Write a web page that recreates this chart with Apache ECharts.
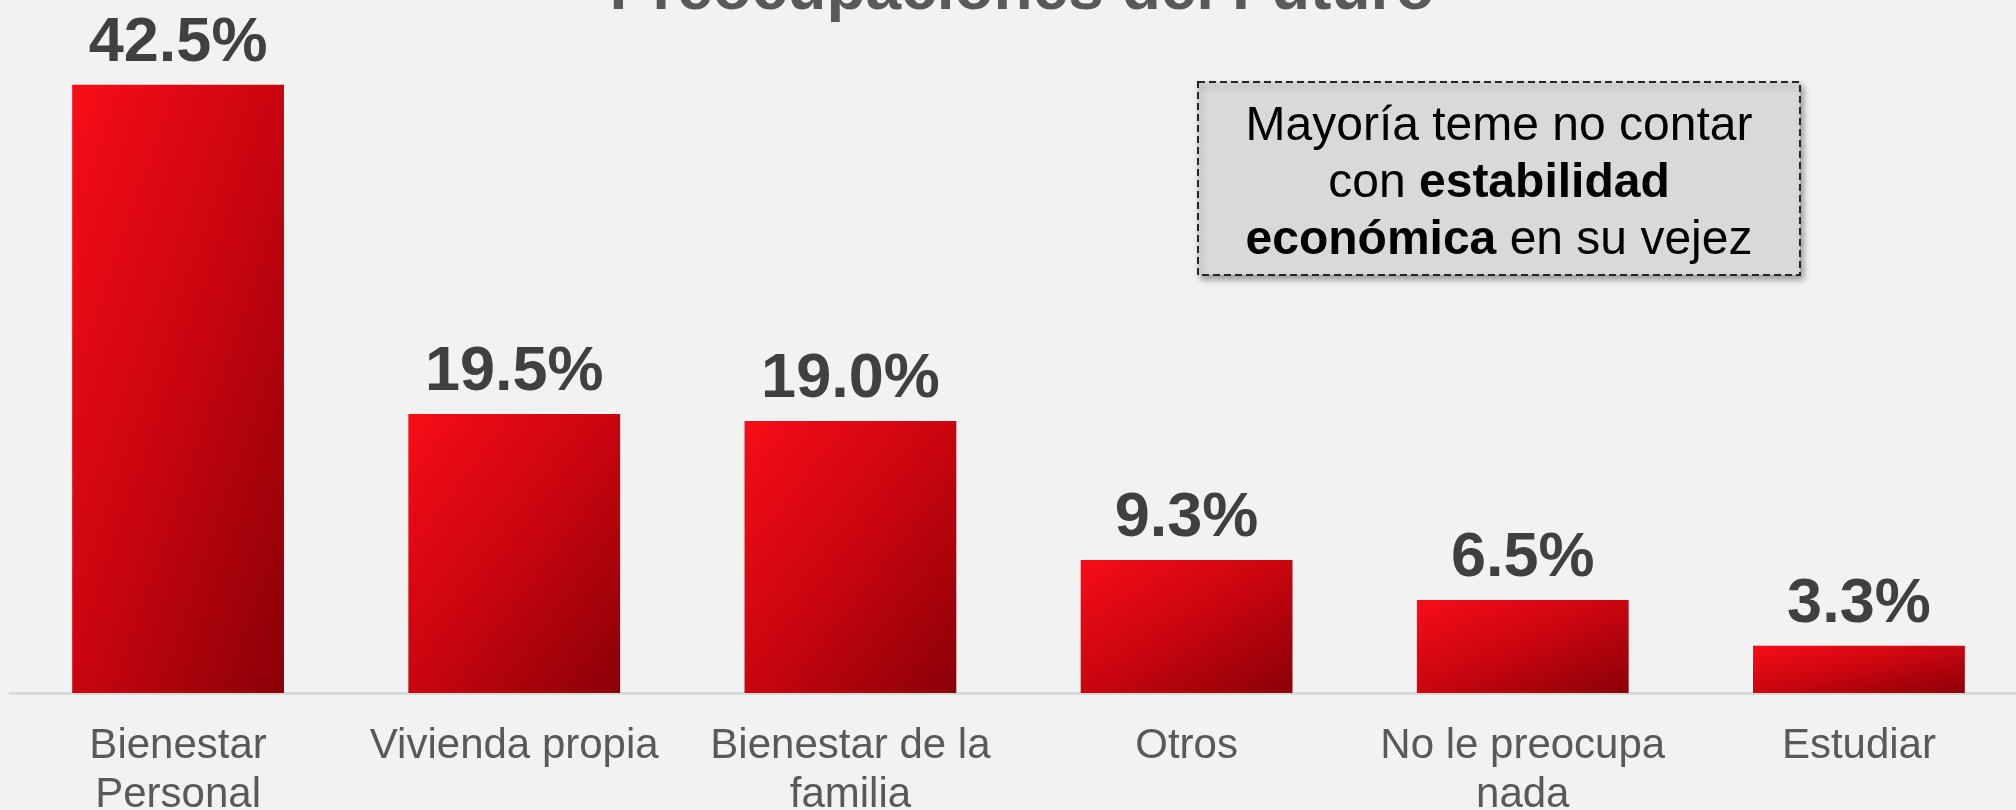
<!DOCTYPE html>
<html>
<head>
<meta charset="utf-8">
<script src="https://cdn.jsdelivr.net/npm/echarts@6/dist/echarts.min.js"></script>
<style>
html,body{margin:0;padding:0;background:#f2f2f2;}
#chart{width:2016px;height:810px;}
</style>
</head>
<body>
<div id="chart"></div>
<script>
var titleText = 'Preocupaciones del Futuro';
var categories = ['Bienestar\nPersonal', 'Vivienda propia', 'Bienestar de la\nfamilia', 'Otros', 'No le preocupa\nnada', 'Estudiar'];
var values = [42.5, 19.5, 19.0, 9.3, 6.5, 3.3];
var noteLines = ['Mayoría teme no contar', 'con {b|estabilidad}', '{b|económica} en su vejez'];

var FONT = '"Liberation Sans", Arial, sans-serif';
var STOPS = [
  {offset: 0, color: '#f70d17'},
  {offset: 0.5, color: '#c9050f'},
  {offset: 1, color: '#8a0007'}
];
var chart = echarts.init(document.getElementById('chart'));
chart.setOption({
  backgroundColor: '#f2f2f2',
  animation: false,
  title: {
    text: titleText,
    left: 1017,
    textAlign: 'center',
    top: -46,
    padding: 5,
    textStyle: {fontFamily: FONT, fontSize: 64, fontWeight: 'bold', color: '#595959'}
  },
  grid: {left: 10, right: -11, top: 49, bottom: 117, containLabel: false, outerBoundsMode: 'none'},
  xAxis: {
    type: 'category',
    data: categories,
    axisTick: {show: false},
    axisLine: {show: true, lineStyle: {color: '#d9d9d9', width: 3}},
    axisLabel: {
      interval: 0,
      margin: 29,
      fontFamily: FONT,
      fontSize: 42,
      lineHeight: 49,
      color: '#595959'
    }
  },
  yAxis: {type: 'value', min: 0, max: 45, show: false, splitLine: {show: false}},
  series: [{
    type: 'bar',
    data: values,
    barWidth: '63%',
    itemStyle: {color: '#c9050f'},
    label: {
      show: true,
      position: 'top',
      distance: 10,
      formatter: function (p) { return p.value.toFixed(1) + '%'; },
      fontFamily: FONT,
      fontSize: 63,
      fontWeight: 'bold',
      color: '#404040'
    }
  }],
  graphic: [
    {
      type: 'rect',
      shape: {x: 1198, y: 82, width: 602, height: 193},
      style: {
        fill: '#d9d9d9',
        stroke: '#262626',
        lineWidth: 2,
        lineDash: [7, 4],
        shadowBlur: 6,
        shadowOffsetX: 3,
        shadowOffsetY: 4,
        shadowColor: 'rgba(0,0,0,0.35)'
      },
      z: 10
    },
    {
      type: 'text',
      x: 1499,
      y: 184,
      style: {
        text: noteLines.join('\n'),
        align: 'center',
        verticalAlign: 'middle',
        fontFamily: FONT,
        fontSize: 48,
        lineHeight: 57,
        fill: '#000000',
        rich: {
          b: {fontFamily: FONT, fontSize: 48, fontWeight: 'bold', lineHeight: 57, fill: '#000000'}
        }
      },
      z: 11
    }
  ]
});

// Shape-scaled diagonal gradient (isolines run corner to corner), computed from each bar's own layout.
var sData = chart.getModel().getSeriesByIndex(0).getData();
var styled = values.map(function (v, i) {
  var l = sData.getItemLayout(i);
  var w = Math.abs(l.width), h = Math.abs(l.height);
  var d = w * w + h * h;
  return {
    value: v,
    itemStyle: {
      color: new echarts.graphic.LinearGradient(0, 0, 2 * h * h / d, 2 * w * w / d, STOPS)
    }
  };
});
chart.setOption({series: [{data: styled}]});
</script>
</body>
</html>
